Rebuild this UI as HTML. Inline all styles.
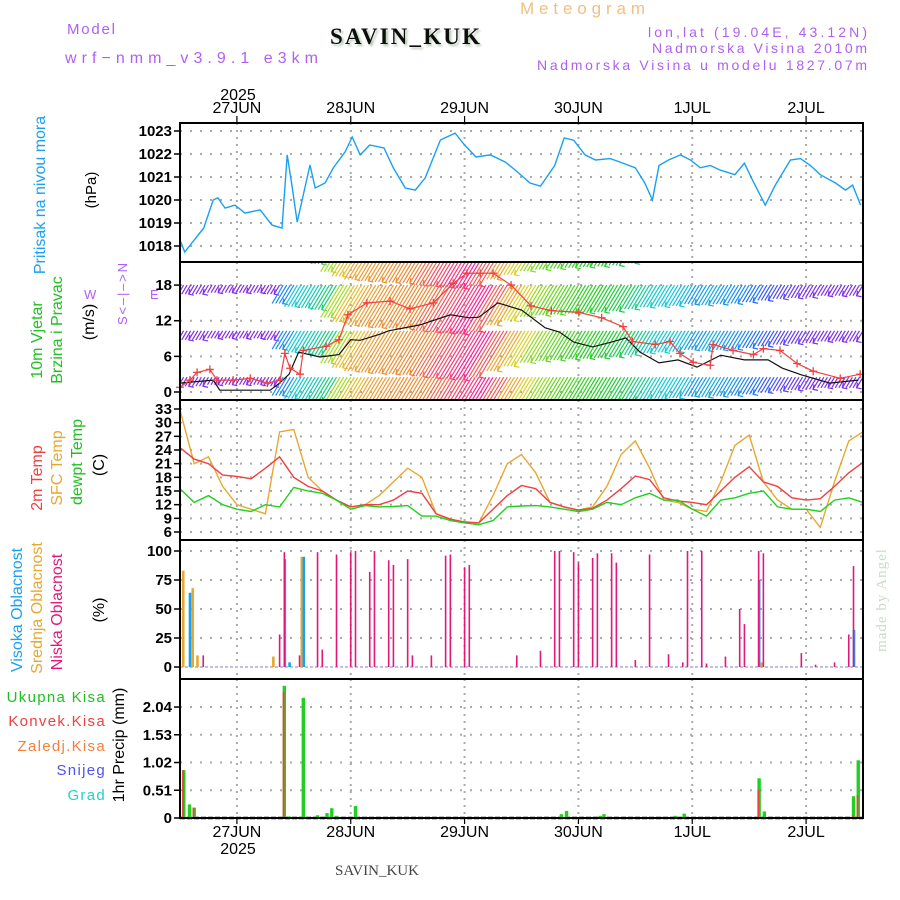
<!DOCTYPE html>
<html><head><meta charset="utf-8"><style>
html,body{margin:0;padding:0;background:#fff;}
svg{display:block;font-family:"Liberation Sans",sans-serif;}
.tick{font-size:15px;font-weight:bold;fill:#000;text-anchor:end;}
.day{font-size:16px;fill:#000;text-anchor:middle;}
</style></head><body>
<svg id="chart" width="900" height="900" viewBox="0 0 900 900" xmlns="http://www.w3.org/2000/svg">
<defs>
<clipPath id="clipWind"><rect x="180" y="262" width="683" height="138"/></clipPath>
<filter id="shadow" x="-5%" y="-5%" width="120%" height="130%"><feDropShadow dx="2" dy="2" stdDeviation="1" flood-color="#b0c8b0"/></filter>
</defs>
<text x="520" y="14" font-size="17" fill="#f0c080" textLength="125">Meteogram</text>
<text x="330" y="44" font-size="23" font-weight="bold" font-family="Liberation Serif, serif" fill="#111" filter="url(#shadow)" textLength="150">SAVIN_KUK</text>
<text x="67" y="34" font-size="15" fill="#b060f0" textLength="48">Model</text>
<text x="65" y="63" font-size="16" fill="#b060f0" textLength="253">wrf−nmm_v3.9.1 e3km</text>
<text x="648" y="37" font-size="14" fill="#b060f0" textLength="219">lon,lat (19.04E, 43.12N)</text>
<text x="652" y="53" font-size="14" fill="#b060f0" textLength="215">Nadmorska Visina 2010m</text>
<text x="537" y="70" font-size="14" fill="#b060f0" textLength="330">Nadmorska Visina u modelu 1827.07m</text>
<text x="238" y="100" class="day">2025</text>

<text transform="translate(45,195) rotate(-90)" font-size="16" fill="#1aa0f0" text-anchor="middle">Pritisak na nivou mora</text>
<text transform="translate(96,190) rotate(-90)" font-size="15" fill="#000" text-anchor="middle">(hPa)</text>
<text transform="translate(42,340) rotate(-90)" font-size="16" fill="#20c020" text-anchor="middle">10m Vjetar</text>
<text transform="translate(62,330) rotate(-90)" font-size="16" fill="#20c020" text-anchor="middle">Brzina i Pravac</text>
<text transform="translate(94,322) rotate(-90)" font-size="16" fill="#000" text-anchor="middle">(m/s)</text>
<g fill="#b060f0" font-size="13">
<text transform="translate(127,294) rotate(-90)" text-anchor="middle" textLength="62">S&lt;–|–&gt;N</text>
<text x="84" y="299">W</text>
<text x="150" y="299">E</text>
</g>
<text transform="translate(42,478) rotate(-90)" font-size="16" fill="#f04040" text-anchor="middle">2m Temp</text>
<text transform="translate(62,468) rotate(-90)" font-size="16" fill="#e8a830" text-anchor="middle">SFC Temp</text>
<text transform="translate(82,462) rotate(-90)" font-size="16" fill="#20c020" text-anchor="middle">dewpt Temp</text>
<text transform="translate(104,465) rotate(-90)" font-size="16" fill="#000" text-anchor="middle">(C)</text>
<text transform="translate(22,610) rotate(-90)" font-size="16" fill="#1aa0f0" text-anchor="middle">Visoka Oblacnost</text>
<text transform="translate(42,608) rotate(-90)" font-size="16" fill="#e8a830" text-anchor="middle">Srednja Oblacnost</text>
<text transform="translate(62,612) rotate(-90)" font-size="16" fill="#e0187c" text-anchor="middle">Niska Oblacnost</text>
<text transform="translate(104,610) rotate(-90)" font-size="16" fill="#000" text-anchor="middle">(%)</text>
<g font-size="15" text-anchor="end" letter-spacing="1.3">
<text x="106" y="702" fill="#20c020">Ukupna Kisa</text>
<text x="106" y="726" fill="#f04040">Konvek.Kisa</text>
<text x="106" y="751" fill="#f08040">Zaledj.Kisa</text>
<text x="106" y="775" fill="#5050f0">Snijeg</text>
<text x="106" y="800" fill="#20d0d0">Grad</text>
</g>
<text transform="translate(124,745) rotate(-90)" font-size="16" fill="#000" text-anchor="middle">1hr Precip (mm)</text>
<text transform="translate(886,600) rotate(-90)" font-size="15" fill="#c8dcc8" font-family="Liberation Serif, serif" text-anchor="middle" letter-spacing="1">made by Angel</text>
<text x="377" y="875" font-size="15" fill="#444" font-family="Liberation Serif, serif" text-anchor="middle">SAVIN_KUK</text>
<text x="238" y="854" class="day">2025</text>
<g id="layer"></g>
</svg>
<script>
// ---- data ----
const dayHours = [12, 36, 60, 84, 108, 132];
const dayLabels = ['27JUN', '28JUN', '29JUN', '30JUN', '1JUL', '2JUL'];

const pressHours = [0,1,5,7,8,9.5,11.6,13.7,16.9,19.4,21.5,22.6,23.6,24.7,26,27.4,28.5,30.6,32.3,34.8,36.3,38,40,43,45,47.5,49.6,51.7,54.9,58,60,62.4,65.4,68.6,70.7,73.8,76,79,81,83,85.4,87.6,90.7,92.8,96,98,99.6,101,103,105.5,107.6,109.7,111.8,113.9,117,119,121,123.4,125.5,128.7,130.8,132.9,135,138.2,140.3,141.8,143.5];
const pressVals = [1018.26,1017.74,1018.78,1020.0,1020.09,1019.65,1019.78,1019.43,1019.57,1018.91,1018.78,1021.96,1020.65,1019.04,1020.22,1021.52,1020.52,1020.74,1021.39,1022.09,1022.74,1021.96,1022.39,1022.26,1021.39,1020.52,1020.43,1020.96,1022.61,1022.91,1022.39,1021.87,1021.96,1021.65,1021.3,1020.74,1020.6,1021.5,1022.7,1022.6,1021.96,1021.74,1021.8,1021.65,1021.4,1020.74,1020.0,1021.5,1021.74,1021.96,1021.74,1021.4,1021.5,1021.3,1021.1,1021.6,1020.74,1019.78,1020.65,1021.74,1021.8,1021.5,1021.1,1020.74,1020.43,1020.65,1019.78];

const tempHours = [0,3,6,9,12,15,18,21,24,27,30,33,36,39,42,45,48,51,54,57,60,63,66,69,72,75,78,81,84,87,90,93,96,99,102,105,108,111,114,117,120,123,126,129,132,135,138,141,144];
const t2m = [24.5,22,21,18.5,18.2,17.7,20,22.5,18,16,15,13,11.5,12,12,13,15,14.5,10,8.8,8.2,8,11,14,16.2,15.5,12.5,11.5,10.8,11.2,13,15.5,18.3,17.5,13.5,12.8,12.5,12,15,18,20.3,17,16,13.5,13,13.3,16,19,21.3];
const tsfc = [32.8,21,22.5,16,12,11,10,28,28.5,18,15,13,11.5,12,14,17,20,18,10,8.8,8.2,8,14,21,23,19,12.5,11.5,10.8,11.5,16,23,26,20,13,12.5,11,10.5,17,25,27.3,17,13,11,11,7,17,26,28];
const tdew = [15.5,12.5,14,12,11,10.5,12,11.5,15.8,15,14.5,13,11,11.8,11.5,11.6,11.8,9.5,9.5,8.5,8,7.6,8.5,11.5,11.7,11.8,11.5,11,10.5,11,12.5,12,13.5,14.5,13,13,11,9.5,13,13.5,14.5,15,11.5,11,11,10.5,13,13.5,12.5];

const windHours = [0,3,6,9,12,15,18,21,24,27,30,33,36,39,42,45,48,51,54,57,60,63,66,69,72,75,78,81,84,87,90,93,96,99,102,105,108,111,114,117,120,123,126,129,132,135,138,141,144];
const windSpeed = [0.5,1,1,0.5,0.5,0.5,0.5,1,4,5,5.4,6,8.5,10,11,11.5,11.8,12,12.2,12.8,13.2,13.5,13.8,13,11,9.5,8.3,7.8,7.5,7.2,7,6.8,6.5,5.8,5.2,5,4.8,4.2,4.5,4.2,4,3.6,3,2.5,2.2,2,1.5,1.5,1.5];
const windLineHours = [0,7,8.4,19,21,23,25,29.5,33.5,36,38,42,44,50.6,57,61,63,67,72,77,80,83,87,91,94,97,101,105,109,114,119,124,127,131,137,143];
const windLineVals = [1.5,2,0.3,0.3,1.5,3,6.7,5.9,6.3,8.8,8.7,9.7,10.3,11.3,13,12.5,12.6,15,13.8,10.8,10.1,8.4,7.6,8.4,9.1,6.7,4.9,5.4,4.2,6.2,5.4,5.4,4,2.9,1.5,2];
const gustHours = [0,2.1,3.6,6.3,7.8,11.2,14.8,18.4,21.1,22.1,23.2,25.3,26,30.8,33.5,35.4,39.4,44.3,48.5,53.4,57.6,60.5,63.3,66,69.8,74,78.3,84.1,88.9,93.4,95.4,100.2,103.3,105.4,108.2,111.8,112.4,116.6,120.9,123,126.5,130.1,133.5,139.2,143.4];
const gustVals = [0.8,2,3.3,3.8,2,2,2.3,1.5,2,6.5,4,3,7,7.7,8.8,13,15,15.3,14,15,18.3,20,20,20,18,14.5,13.7,13.4,12.5,11,8.5,8,8.5,6.5,5,4.5,8,7,6.3,7.3,7,4.8,3.5,2.3,3];

const lowCloudHours = [4.9,21,22,25.2,29,30,33,36,37,40,41,44,45,48,49,53,56,57,60,61,71,76,79,80,83,84,87,88,91,92,96,99,103,106,107,110,111,115,118,119,122,123,131,134,138,141,142];
const lowCloudVals = [10,28,99,10,99,15,97,99,100,82,100,92,88,93,10,10,96,97,86,88,10,14,100,100,99,90,94,98,98,90,6,97,11,4,100,100,3,9,50,37,100,98,12,2,4,28,87];
const midCloudHours = [1,3,4,20,26,123];
const midCloudVals = [83,68,10,9,95,4];
const highCloudHours = [2,22,23,26,122,142];
const highCloudVals = [64,93,4,95,75,32];

const precipHours = [0.8,2,3,22,23,26,29,31,32,33,37,78.5,80.4,81.5,88.6,89.4,101.4,104.4,105.4,106.3,122.1,123.2,142,143];
const precipTotal = [0.88,0.25,0.19,2.43,0.03,2.21,0.05,0.09,0.18,0.04,0.22,0.02,0.07,0.13,0.04,0.07,0.02,0.04,0.02,0.08,0.73,0.12,0.40,1.06];
const precipConv = [0.88,0,0.19,2.32,0,0,0,0,0,0,0,0,0,0,0,0,0,0,0,0,0.52,0,0.05,0.42];

const pressTicks = [1018,1019,1020,1021,1022,1023];
const windTicks = [0,6,12,18];
const tempTicks = [6,9,12,15,18,21,24,27,30,33];
const cloudTicks = [0,25,50,75,100];
const precipTicks = [0,0.51,1.02,1.53,2.04];

// ---- scales ----
const X0 = 180, X1 = 863, TMAX = 144;
const X = t => X0 + t * (X1 - X0) / TMAX;
const yP = v => 131 + (1023 - v) * 23;
const yW = v => 392 - v * 5.94;
const yT = v => 532 - (v - 6) * 4.556;
const yC = v => 667 - v * 1.16;
const yR = v => 818 - v * 54.4;
const panels = [
  {name:'pressure', top:123, bot:262, y:yP, ticks:pressTicks},
  {name:'wind', top:262, bot:400, y:yW, ticks:windTicks},
  {name:'temperature', top:400, bot:540, y:yT, ticks:tempTicks},
  {name:'cloud', top:540, bot:679, y:yC, ticks:cloudTicks},
  {name:'precip', top:679, bot:818, y:yR, ticks:precipTicks}
];

const NS = 'http://www.w3.org/2000/svg';
const layer = document.getElementById('layer');
function mk(tag, attrs, parent) {
  const e = document.createElementNS(NS, tag);
  for (const k in attrs) e.setAttribute(k, attrs[k]);
  (parent || layer).appendChild(e);
  return e;
}
function path(xs, ys, sx, sy) {
  return xs.map((t, i) => (i ? 'L' : 'M') + sx(t).toFixed(1) + ',' + sy(ys[i]).toFixed(1)).join('');
}

// grids and ticks
panels.forEach(p => {
  const g = mk('g', {});
  
  
  dayHours.forEach(h => {
    const l = mk('line', {x1:X(h), x2:X(h), y1:p.top, y2:p.bot, stroke:'#aaa', 'stroke-width':2, 'stroke-dasharray':'2,5'}, g);
    
    
  });
  p.ticks.forEach(v => {
    const yy = p.y(v);
    const l = mk('line', {x1:X0, x2:X1, y1:yy, y2:yy, stroke:'#aaa', 'stroke-width':2, 'stroke-dasharray':'2,8'}, g);
    
    
    const tk = mk('line', {x1:X0 - 6, x2:X0, y1:yy, y2:yy, stroke:'#000', 'stroke-width':1.5}, g);
    
    
    const tx = mk('text', {x:X0 - 8, y:yy + 5, class:'tick'}, g);
    if (p.name === 'temperature') { tx.setAttribute('font-size', '14'); tx.setAttribute('textLength', v >= 10 ? 17 : 9); }
    tx.textContent = String(v);
    
    
  });
});

// pressure
const pl = mk('path', {d:path(pressHours, pressVals, X, yP), fill:'none', stroke:'#1aa0f0', 'stroke-width':1.4});



// wind arrows
const colStops = [[0,[138,43,226]],[2,[122,48,240]],[3.5,[32,110,255]],[5,[16,200,216]],[7,[32,208,32]],[9,[208,224,32]],[10.5,[240,176,48]],[12.5,[240,128,48]],[13.8,[255,32,144]]];
function speedColor(s) {
  if (s <= colStops[0][0]) return 'rgb(' + colStops[0][1] + ')';
  for (let i = 1; i < colStops.length; i++) {
    if (s <= colStops[i][0]) {
      const a = colStops[i-1], b = colStops[i], f = (s - a[0]) / (b[0] - a[0]);
      return 'rgb(' + a[1].map((c, k) => Math.round(c + (b[1][k] - c) * f)).join(',') + ')';
    }
  }
  return 'rgb(' + colStops[colStops.length - 1][1] + ')';
}
const wg = mk('g', {'clip-path':'url(#clipWind)'});


const rowBase = [25.7, 18, 10.3, 2.5];
rowBase.forEach(b => {
  const y0 = yW(b);
  windSpeed.forEach((s, i) => {
    const L = 6 + 3.1 * s;
    const col = speedColor(s);
    for (let k = 0; k < 4; k++) {
      const x0 = X(windHours[i]) - k * 3.55;
      const ln = mk('line', {x1:x0, y1:y0, x2:x0 - 0.6 * L, y2:y0 + L, stroke:col, 'stroke-width':1.2}, wg);
      
      
    }
    const hx = X(windHours[i]) - 0.6 * L, hy = y0 + L;
    const hd = mk('path', {d:'M' + (hx + 5) + ',' + (hy + 1) + 'L' + hx + ',' + hy + 'L' + (hx + 1) + ',' + (hy - 5), stroke:col, fill:'none', 'stroke-width':1.2}, wg);
    
    
  });
});
const wl = mk('path', {d:path(windLineHours, windLineVals, X, yW), fill:'none', stroke:'#111', 'stroke-width':1.2});


const gl = mk('path', {d:path(gustHours, gustVals, X, yW), fill:'none', stroke:'#f04040', 'stroke-width':1.2});


gustHours.forEach((t, i) => {
  const cx = X(t), cy = yW(gustVals[i]);
  const m = mk('path', {d:'M' + (cx - 4) + ',' + cy + 'H' + (cx + 4) + 'M' + cx + ',' + (cy - 4) + 'V' + (cy + 4), stroke:'#f04040', 'stroke-width':1.3});
  
  
});

// temperature
[[tsfc,'#e8a830','sfc-temp-line'],[t2m,'#f04040','t2m-line'],[tdew,'#20d020','dewpoint-line']].forEach(s => {
  const l = mk('path', {d:path(tempHours, s[0], X, yT), fill:'none', stroke:s[1], 'stroke-width':1.4});
  
  
});

// clouds
const zc = mk('line', {x1:X0, x2:X1, y1:yC(0), y2:yC(0), stroke:'#c0c0e0', 'stroke-width':2, 'stroke-dasharray':'3,2'});


[[midCloudHours, midCloudVals, '#e8a830', -1.5, 'mid-cloud-bar'],[highCloudHours, highCloudVals, '#1aa0f0', 0.5, 'high-cloud-bar'],[lowCloudHours, lowCloudVals, '#e0187c', 0, 'low-cloud-bar']].forEach(s => {
  s[0].forEach((t, i) => {
    const w = s[4] === 'low-cloud-bar' ? 1.6 : 2.6;
    const r = mk('rect', {x:X(t) + s[3] - w / 2, y:yC(s[1][i]), width:w, height:yC(0) - yC(s[1][i]), fill:s[2]});
    
    
  });
});

// precip
const zp = mk('line', {x1:X0, x2:X1, y1:yR(0), y2:yR(0), stroke:'#000', 'stroke-width':2.5, 'stroke-dasharray':'5,2'});


precipHours.forEach((t, i) => {
  const r = mk('rect', {x:X(t) - 1.7, y:yR(precipTotal[i]), width:3.4, height:yR(0) - yR(precipTotal[i]), fill:'#20d020'});
  
  
  if (precipConv[i] > 0) {
    const c = mk('rect', {x:X(t) - 1.7, y:yR(precipConv[i]), width:1.8, height:yR(0) - yR(precipConv[i]), fill:'#f04040'});
    
    
  }
});

// frames
panels.forEach(p => {
  const f = mk('rect', {x:X0, y:p.top, width:X1 - X0, height:p.bot - p.top, fill:'none', stroke:'#000', 'stroke-width':2});
  
  
});

// day labels top & bottom
dayHours.forEach((h, i) => {
  const t1 = mk('text', {x:X(h), y:113, class:'day'});
  t1.textContent = dayLabels[i];
  
  
  const tk1 = mk('line', {x1:X(h), x2:X(h), y1:116, y2:123, stroke:'#000', 'stroke-width':1.2});
  
  
  const t2 = mk('text', {x:X(h), y:837, class:'day'});
  t2.textContent = dayLabels[i];
  
  
  const tk2 = mk('line', {x1:X(h), x2:X(h), y1:818, y2:824, stroke:'#000', 'stroke-width':1.2});
  
  
});
</script>
</body></html>
